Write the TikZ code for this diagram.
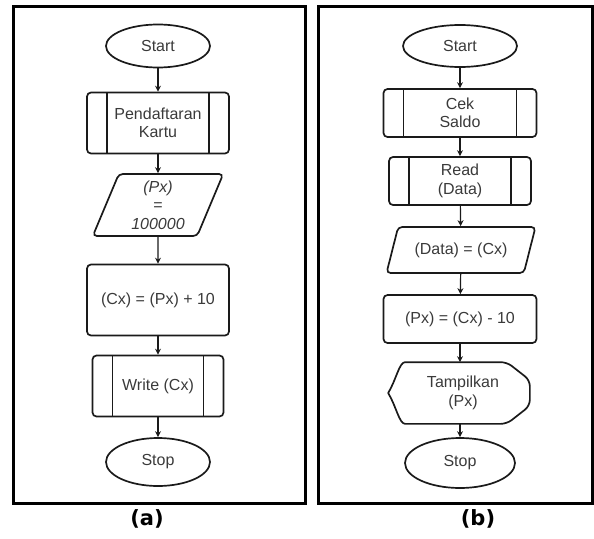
\documentclass[tikz,border=0pt]{standalone}
\usepackage{fontspec}
\setmainfont{Liberation Sans}
\newfontfamily\capfont{DejaVu Sans}
\usepackage{xcolor}
\usetikzlibrary{shapes.geometric,arrows.meta}
\definecolor{ink}{HTML}{3a3a3a}
\definecolor{edge}{HTML}{1a1a1a}

\begin{document}
\begin{tikzpicture}[x=1pt, y=-1pt, >={Stealth[length=6pt,width=6pt]}, line width=1.7pt,
    every node/.style={text=ink, font=\fontsize{16}{18.5}\selectfont, align=center, inner sep=0pt},
    terminal/.style={draw=edge, ellipse},
    procbox/.style={draw=edge, rectangle, rounded corners=4pt},
    predef/.style={procbox, path picture={
        \draw[edge, line width=1.7pt] ([xshift=20pt]path picture bounding box.north west) -- ([xshift=20pt]path picture bounding box.south west);
        \draw[edge, line width=1.7pt] ([xshift=-20pt]path picture bounding box.north east) -- ([xshift=-20pt]path picture bounding box.south east);}},
    iobox/.style={draw=edge, trapezium, trapezium stretches=true, rounded corners=4pt},
    flow/.style={->, draw=edge, line width=1.2pt},
    caption/.style={text=black, font=\capfont\bfseries\fontsize{21}{24}\selectfont}]
  \useasboundingbox (0,0) rectangle (594,538);

  % frames
  \draw[line width=3pt] (13,6) rectangle (305,503);
  \draw[line width=3pt] (318,6) rectangle (592,503);

  % (a) registration
  \node[terminal, minimum width=104pt, minimum height=43pt] (starta) at (158,46) {Start};
  \node[predef, minimum width=142pt, minimum height=61pt] (regist) at (158,123) {Pendaftaran\\Kartu};
  \node[iobox, trapezium left angle=70, trapezium right angle=110, minimum width=131pt, minimum height=62pt] (setpx) at (158,205) {\itshape (Px)\\=\\\itshape 100000};
  \node[procbox, minimum width=142pt, minimum height=71pt] (addcx) at (158,300) {(Cx) = (Px) + 10};
  \node[predef, minimum width=131pt, minimum height=61pt] (writecx) at (158,386) {Write (Cx)};
  \node[terminal, minimum width=104pt, minimum height=48pt] (stopa) at (158,462) {Stop};

  \draw[flow] (starta) -- (regist);
  \draw[flow] (regist) -- (setpx);
  \draw[flow] (setpx) -- (addcx);
  \draw[flow] (addcx) -- (writecx);
  \draw[flow] (writecx) -- (stopa);

  % (b) balance check
  \node[terminal, minimum width=114pt, minimum height=42pt] (startb) at (460,46) {Start};
  \node[predef, minimum width=153pt, minimum height=48pt] (saldo) at (460,113) {Cek\\Saldo};
  \node[predef, minimum width=142pt, minimum height=48pt] (readdata) at (460,181) {Read\\(Data)};
  \node[iobox, trapezium left angle=60, trapezium right angle=120, minimum width=149pt, minimum height=46pt] (datacx) at (461,250) {(Data) = (Cx)};
  \node[procbox, minimum width=153pt, minimum height=48pt] (subpx) at (460,319) {(Px) = (Cx) - 10};
  \node[minimum width=142pt, minimum height=60pt] (showpx) at (460,393) {\hspace*{6pt}Tampilkan\\\hspace*{6pt}(Px)};
  \draw[edge, line join=round] (showpx.west)
      .. controls ([xshift=8pt, yshift=13pt]showpx.west) and ([xshift=11pt]showpx.north west) .. ([xshift=17pt]showpx.north west)
      [rounded corners=6pt] -- ([xshift=-25pt]showpx.north east)
      -- ([xshift=-2pt, yshift=-18pt]showpx.north east)
      -- ([xshift=-2pt, yshift=18pt]showpx.south east)
      -- ([xshift=-25pt]showpx.south east)
      [sharp corners] -- ([xshift=17pt]showpx.south west)
      .. controls ([xshift=11pt]showpx.south west) and ([xshift=8pt, yshift=-13pt]showpx.west) .. (showpx.west);
  \node[terminal, minimum width=110pt, minimum height=50pt] (stopb) at (460,463) {Stop};

  \draw[flow] (startb) -- (saldo);
  \draw[flow] (saldo) -- (readdata);
  \draw[flow] (readdata) -- (datacx);
  \draw[flow] (datacx) -- (subpx);
  \draw[flow] (subpx) -- (showpx);
  \draw[flow] (showpx) -- (stopb);

  % captions
  \node[caption] (capa) at (147,519) {(a)};
  \node[caption] (capb) at (478,519) {(b)};
\end{tikzpicture}
\end{document}
